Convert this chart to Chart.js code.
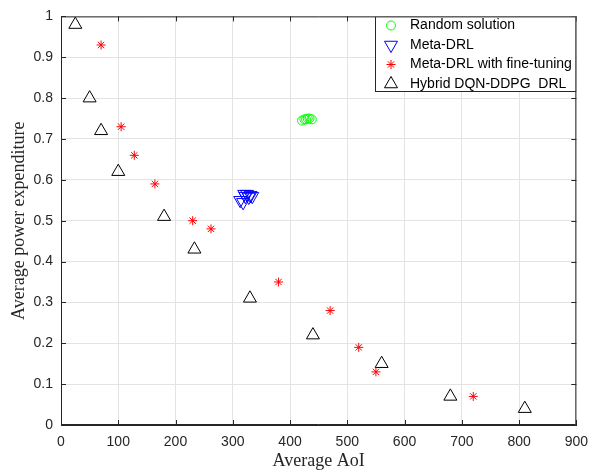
<!DOCTYPE html>
<html>
<head>
<meta charset="utf-8">
<script src="https://cdn.jsdelivr.net/npm/chart.js@4"></script>
<style>
  html, body { margin: 0; padding: 0; background: #fff; }
  #chart { display: block; }
</style>
</head>
<body>
<canvas id="chart" width="597" height="472"></canvas>
<script>
// Series names, as in the legend
const seriesNames = [
  "Random solution",
  "Meta-DRL",
  "Meta-DRL with fine-tuning",
  "Hybrid DQN-DDPG  DRL",
];

// Random solution (green circles)
const randomAoI = [421, 425, 428, 431, 434, 438];
const randomPower = [0.745, 0.748, 0.748, 0.75, 0.75, 0.748];

// Meta-DRL (blue down triangles)
const metaAoI = [313, 318, 320, 322, 325, 328, 331, 334];
const metaPower = [0.55, 0.545, 0.565, 0.56, 0.565, 0.558, 0.562, 0.56];

// Meta-DRL with fine-tuning (red stars)
const tunedAoI = [70, 105, 128, 164, 230, 262, 380, 470, 520, 550, 720];
const tunedPower = [0.93, 0.73, 0.66, 0.59, 0.5, 0.48, 0.35, 0.28, 0.19, 0.13, 0.07];

// Hybrid DQN-DDPG DRL (black triangles)
const hybridAoI = [25, 50, 70, 100, 180, 233, 330, 440, 560, 680, 810];
const hybridPower = [0.98, 0.8, 0.72, 0.62, 0.51, 0.43, 0.31, 0.22, 0.15, 0.07, 0.04];

const xTicks = [0, 100, 200, 300, 400, 500, 600, 700, 800, 900];
const yTicks = [0, 0.1, 0.2, 0.3, 0.4, 0.5, 0.6, 0.7, 0.8, 0.9, 1];

function toPoints(xs, ys) {
  return xs.map((x, i) => ({ x: x, y: ys[i] }));
}

const axisColor = "#262626";
const gridColor = "#e3e3e3";
const tickFont = { family: "'Liberation Sans', Arial, sans-serif", size: 14 };
const titleFont = { family: "'Liberation Serif', 'Times New Roman', serif", size: 18 };

// MATLAB style box, inward ticks and legend inside the axes
const matlabAxes = {
  id: "matlabAxes",
  afterDatasetsDraw(chart) {
    const { ctx, chartArea: a } = chart;
    const xs = chart.scales.x;
    const ys = chart.scales.y;
    ctx.save();
    ctx.strokeStyle = axisColor;
    ctx.lineWidth = 1;
    ctx.beginPath();
    ctx.rect(a.left + 0.5, a.top + 0.5, a.right - a.left - 1, a.bottom - a.top - 1);
    xTicks.forEach((v) => {
      const px = Math.round(xs.getPixelForValue(v)) + 0.5;
      ctx.moveTo(px, a.bottom);
      ctx.lineTo(px, a.bottom - 5);
      ctx.moveTo(px, a.top);
      ctx.lineTo(px, a.top + 5);
    });
    yTicks.forEach((v) => {
      const py = Math.round(ys.getPixelForValue(v)) + 0.5;
      ctx.moveTo(a.left, py);
      ctx.lineTo(a.left + 5, py);
      ctx.moveTo(a.right, py);
      ctx.lineTo(a.right - 5, py);
    });
    ctx.stroke();
    ctx.restore();
  },
  afterDraw(chart) {
    const { ctx, chartArea: a } = chart;
    const box = { left: 375, top: a.top, right: a.right, bottom: 92 };
    const rowY = [25.5, 45, 64.5, 84];
    ctx.save();
    ctx.fillStyle = "#fff";
    ctx.fillRect(box.left, box.top, box.right - box.left, box.bottom - box.top);
    ctx.strokeStyle = axisColor;
    ctx.lineWidth = 1;
    ctx.strokeRect(box.left + 0.5, box.top + 0.5, box.right - box.left - 1, box.bottom - box.top - 1);
    chart.data.datasets.forEach((ds, i) => {
      ctx.fillStyle = "rgba(0,0,0,0)";
      ctx.strokeStyle = ds.borderColor;
      ctx.lineWidth = ds.borderWidth;
      Chart.helpers.drawPoint(ctx, {
        pointStyle: ds.pointStyle,
        rotation: ds.rotation || 0,
        radius: ds.pointRadius,
        borderWidth: ds.borderWidth,
      }, 391, rowY[i]);
      ctx.fillStyle = "#000";
      ctx.font = "14px 'Liberation Sans', Arial, sans-serif";
      ctx.textBaseline = "middle";
      ctx.textAlign = "left";
      ctx.fillText(ds.label, 410, rowY[i]);
    });
    ctx.restore();
  },
};

new Chart(document.getElementById("chart").getContext("2d"), {
  type: "scatter",
  data: {
    datasets: [
      {
        label: seriesNames[0],
        data: toPoints(randomAoI, randomPower),
        pointStyle: "circle",
        pointRadius: 4.5,
        borderColor: "#00ff00",
        backgroundColor: "rgba(0,0,0,0)",
        borderWidth: 1,
      },
      {
        label: seriesNames[1],
        data: toPoints(metaAoI, metaPower),
        pointStyle: "triangle",
        rotation: 180,
        pointRadius: 7.5,
        borderColor: "#0000ff",
        backgroundColor: "rgba(0,0,0,0)",
        borderWidth: 1,
      },
      {
        label: seriesNames[2],
        data: toPoints(tunedAoI, tunedPower),
        pointStyle: "star",
        pointRadius: 4.5,
        borderColor: "#ff0000",
        backgroundColor: "rgba(0,0,0,0)",
        borderWidth: 1,
      },
      {
        label: seriesNames[3],
        data: toPoints(hybridAoI, hybridPower),
        pointStyle: "triangle",
        pointRadius: 7.5,
        borderColor: "#000000",
        backgroundColor: "rgba(0,0,0,0)",
        borderWidth: 1,
      },
    ],
  },
  options: {
    responsive: false,
    animation: false,
    devicePixelRatio: 1,
    layout: { padding: { top: 15, right: 15, left: 0, bottom: 0 } },
    plugins: {
      legend: { display: false },
      tooltip: { enabled: false },
    },
    scales: {
      x: {
        type: "linear",
        min: 0,
        max: 900,
        afterBuildTicks: (s) => { s.ticks = xTicks.map((v) => ({ value: v })); },
        afterFit: (s) => { s.height = 47; },
        ticks: { font: tickFont, color: axisColor, padding: 9, maxRotation: 0 },
        grid: { color: gridColor, drawTicks: false },
        border: { color: axisColor },
        title: {
          display: true,
          text: "Average AoI",
          font: titleFont,
          color: axisColor,
          padding: { top: 0, bottom: 0 },
        },
      },
      y: {
        type: "linear",
        min: 0,
        max: 1,
        afterBuildTicks: (s) => { s.ticks = yTicks.map((v) => ({ value: v })); },
        afterFit: (s) => { s.width = 61; },
        ticks: {
          font: tickFont,
          color: axisColor,
          padding: 8,
          callback: (v) => String(Math.round(v * 10) / 10),
        },
        grid: { color: gridColor, drawTicks: false },
        border: { color: axisColor },
        title: {
          display: true,
          text: "Average power expenditure",
          font: titleFont,
          color: axisColor,
          padding: { top: 8, bottom: 0 },
        },
      },
    },
  },
  plugins: [matlabAxes],
});
</script>
</body>
</html>
